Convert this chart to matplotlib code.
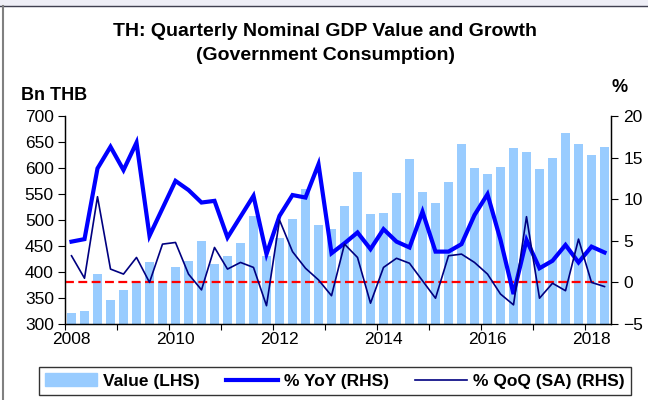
import numpy as np
import matplotlib
matplotlib.use("Agg")
import matplotlib.pyplot as plt
from matplotlib.lines import Line2D
from matplotlib.patches import Rectangle

plt.rcParams['font.family'] = ['Liberation Sans', 'DejaVu Sans']

# quarterly data, 2008Q1 .. 2018Q2
value = [322, 325, 397, 347, 365, 380, 419, 380, 410, 421, 460, 416, 431, 455,
         507, 430, 466, 502, 559, 491, 482, 526, 593, 511, 513, 551, 617, 554,
         532, 573, 647, 600, 589, 602, 638, 631, 599, 619, 667, 647, 625, 641]
yoy = [4.9, 5.2, 13.7, 16.3, 13.5, 16.8, 5.6, 8.9, 12.2, 11.1, 9.6, 9.8, 5.4, 7.9,
       10.4, 3.4, 8.0, 10.5, 10.2, 14.2, 3.5, 4.7, 6.0, 4.0, 6.4, 4.9, 4.2, 8.5,
       3.7, 3.7, 4.6, 8.1, 10.6, 5.1, -1.4, 5.1, 1.7, 2.6, 4.5, 2.4, 4.3, 3.6]
qoq = [3.2, 0.5, 10.3, 1.6, 1.0, 3.0, 0.0, 4.6, 4.8, 1.0, -0.9, 4.2, 1.6, 2.4,
       1.8, -2.8, 7.5, 3.7, 1.7, 0.3, -1.6, 4.6, 3.0, -2.5, 1.8, 2.9, 2.3, 0.2,
       -1.9, 3.2, 3.4, 2.4, 1.0, -1.4, -2.7, 7.9, -1.9, -0.1, -1.0, 5.2, 0.0, -0.5]
years = ['2008', '2010', '2012', '2014', '2016', '2018']

x = np.arange(len(value))

fig = plt.figure(figsize=(6.48, 4.0), dpi=100)
ax = fig.add_axes([65 / 648, 1 - 324 / 400, 546 / 648, 208 / 400])
ax2 = ax.twinx()

ax.bar(x, value, width=0.62, color='#99CCFF', bottom=0, zorder=2)
ax.set_ylim(300, 700)
ax.set_yticks(np.arange(300, 701, 50))
ax.set_xlim(-0.5, len(value) - 0.5)

ax2.axhline(0, color='#FF0000', lw=1.6, ls=(0, (4, 2)), zorder=1)
ax2.plot(x, yoy, color='#0000FF', lw=3.0, zorder=3, solid_joinstyle='miter')
ax2.plot(x, qoq, color='#000080', lw=1.2, zorder=4)
ax2.set_ylim(-5, 20)
ax2.set_yticks(np.arange(-5, 21, 5))

# year boundaries as tick marks, labels on first quarter of even years
ax.set_xticks(np.arange(-0.5, len(value), 4))
ax.set_xticklabels([])
ax.set_xticks(np.arange(0, len(value), 8), minor=True)
ax.set_xticklabels(years, minor=True)
ax.tick_params(axis='x', which='major', direction='out', length=4, width=0.8)
ax.tick_params(axis='x', which='minor', length=0, pad=6, labelsize=12.5)
ax.tick_params(axis='y', direction='out', length=5, width=0.8, pad=3, labelsize=12.5)
ax2.tick_params(axis='y', direction='out', length=5, width=0.8, pad=4, labelsize=12.5)

ax.spines['top'].set_visible(False)
ax2.spines['top'].set_visible(False)
for a in (ax, ax2):
    for s in a.spines.values():
        s.set_linewidth(0.9)

fig.text(325 / 648, 1 - 32 / 400, 'TH: Quarterly Nominal GDP Value and Growth',
         ha='center', va='center', fontsize=14, fontweight='bold')
fig.text(325 / 648, 1 - 55 / 400, '(Government Consumption)',
         ha='center', va='center', fontsize=14, fontweight='bold')
fig.text(21 / 648, 1 - 95 / 400, 'Bn THB', ha='left', va='center',
         fontsize=13, fontweight='bold')
fig.text(620 / 648, 1 - 88 / 400, '%', ha='center', va='center',
         fontsize=13, fontweight='bold')

handles = [Rectangle((0, 0), 1, 1, color='#99CCFF'),
           Line2D([], [], color='#0000FF', lw=3.0),
           Line2D([], [], color='#000080', lw=1.2)]
labels = ['Value (LHS)', '% YoY (RHS)', '% QoQ (SA) (RHS)']
leg = fig.legend(handles, labels, loc='center', ncol=3,
                 bbox_to_anchor=(335 / 648, 1 - 381 / 400),
                 prop={'weight': 'bold', 'size': 12.5},
                 frameon=True, fancybox=False, edgecolor='black',
                 handlelength=3.0, handletextpad=0.35, columnspacing=1.5,
                 borderpad=0.35, borderaxespad=0)
leg.get_frame().set_linewidth(1.0)

# outer frame pieces
fig.patches.append(Rectangle((0, 1 - 6 / 400), 1, 6 / 400, transform=fig.transFigure,
                             color='#EEEEF6', zorder=0))
fig.lines.append(Line2D([0, 1], [1 - 6 / 400, 1 - 6 / 400], transform=fig.transFigure,
                        color='#404050', lw=1.0))
fig.lines.append(Line2D([3 / 648, 3 / 648], [0, 1 - 6 / 400], transform=fig.transFigure,
                        color='#808080', lw=1.5))

fig.savefig('out.png', dpi=100)
